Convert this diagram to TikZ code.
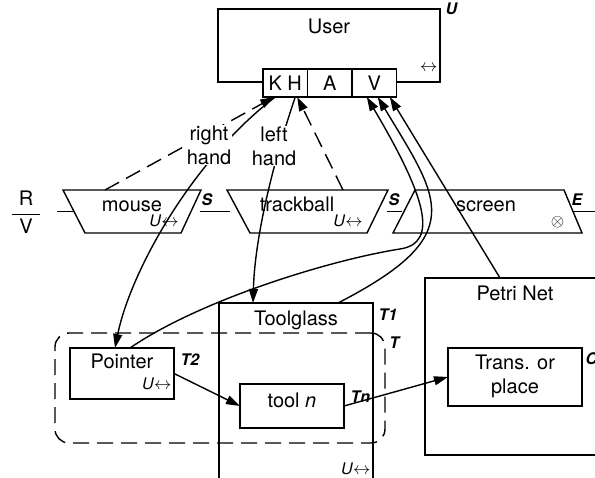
\documentclass[tikz,border=0pt]{standalone}
\usepackage{amsmath}
\usepackage{fontspec}
\setmainfont{TeX Gyre Heros}
\usepackage{tikz}
\usetikzlibrary{positioning, arrows.meta, calc}

% small "U <->" mark
\newcommand{\urel}{{\fontsize{16}{18}\selectfont\textit{U}$\leftrightarrow$}}

\begin{document}
\begin{tikzpicture}[
        x=1pt, y=-1pt,
        >={Triangle[length=14pt, width=9pt]}, % Arrow style
        line width=1.4pt,
        every node/.style={font=\fontsize{20}{24}\selectfont, inner sep=2pt},
        % Define node styles
        box/.style={draw, rectangle, inner sep=0pt, outer sep=0pt},
        cell/.style={box, fill=white, minimum width=44.5pt, minimum height=28pt},
        device/.style={rectangle, minimum height=43pt, inner sep=0pt, outer sep=0pt},
        tag/.style={font=\fontsize{16}{18}\selectfont\bfseries\itshape, inner sep=0pt},
        hand/.style={fill=white, align=center, inner sep=1pt},
        feedback/.style={dash pattern=on 16pt off 8pt}
    ]
    \useasboundingbox (0,0) rectangle (595,478);
    \clip (0,0) rectangle (595,478);

    % --- User ---
    \node[box, minimum width=222pt, minimum height=73pt] (user) at (329,45.5) {};
    \node[below=7pt of user.north] (usertxt) {User};
    \node[tag, right=5pt of user.north east] (utag) {U};
    \node[cell] (kh) at (285.25,83) {K H};
    \node[cell, right=0pt of kh] (a) {A};
    \node[cell, right=0pt of a] (v) {V};
    \node[font=\fontsize{16}{18}\selectfont, above left=7.5pt and 0pt of user.south east] (userrel) {$\leftrightarrow$};

    % --- Devices (frames, outlines drawn below) ---
    \node[device, minimum width=138pt] (mouse) at (132,211.5) {};
    \node[device, minimum width=161pt] (trackball) at (307.5,211.5) {};
    \node[device, minimum width=189pt] (screen) at (487.5,211.5) {};
    \draw (mouse.north west) -- (mouse.north east) -- ([xshift=-20pt]mouse.south east) -- ([xshift=22pt]mouse.south west) -- cycle;
    \draw (trackball.north west) -- (trackball.north east) -- ([xshift=-21pt]trackball.south east) -- ([xshift=23pt]trackball.south west) -- cycle;
    \draw ([xshift=22pt]screen.north west) -- ([xshift=-18pt]screen.north east) -- (screen.south east) -- (screen.south west) -- cycle;

    \node[anchor=base] (mousetxt) at (132,211.5) {mouse};
    \node[anchor=base] (mouserel) at (164,227) {\urel};
    \node[anchor=base] (tbtxt) at (297,211.5) {trackball};
    \node[anchor=base] (tbrel) at (348,227) {\urel};
    \node[anchor=base] (scrtxt) at (486,211.5) {screen};
    \node[font=\fontsize{16}{18}\selectfont] (scrrel) at (557.5,222.5) {$\otimes$};

    \node (rv) at (26,212) {$\dfrac{\hbox{\kern7pt R\kern7pt}}{\hbox{V}}$};
    \node[tag] (s1) at (207,200) {S};
    \node[tag] (s2) at (394,200) {S};
    \node[tag] (etag) at (577,200) {E};
    \coordinate (rvend) at (57,211.5);
    \coordinate (eend) at (600,211.5);

    \draw ([xshift=10pt]mouse.west) -- (rvend);
    \draw ([xshift=-1pt]mouse.east) -- ([xshift=3pt]trackball.west);
    \draw ([xshift=-1pt]trackball.east) -- ([xshift=9pt]screen.west);
    \draw ([xshift=-9pt]screen.east) -- (eend);

    % --- Toolglass, pointer and Petri net ---
    \node[box, minimum width=154pt, minimum height=179pt] (tglass) at (296,392.5) {};
    \node[below=5pt of tglass.north] (tglasstxt) {Toolglass};
    \node[tag, below right=5pt and 5pt of tglass.north east] (t1) {T1};
    \node[above left=5pt and 0pt of tglass.south east] (tglassrel) {\urel};

    \node[box, minimum width=104pt, minimum height=51pt] (pointer) at (122,373.5) {};
    \node[below=3pt of pointer.north] (pointertxt) {Pointer};
    \node[tag, below right=5pt and 6pt of pointer.north east] (t2) {T2};
    \node[above left=7pt and 0pt of pointer.south east] (pointerrel) {\urel};

    \node[box, minimum width=104pt, minimum height=44pt] (tooln) at (292,406) {};
    \node[below=6pt of tooln.north] (toolntxt) {tool \textit{n}};
    \node[tag, below right=6pt and 6pt of tooln.north east] (tn) {Tn};

    \node[draw, feedback, rounded corners=14pt, minimum width=330pt, minimum height=110pt] (tgroup) at (220,388) {};
    \node[tag, below right=4pt and 3pt of tgroup.north east] (ttag) {T};

    \node[box, minimum width=180pt, minimum height=177pt] (petri) at (515,366.5) {};
    \node[below=5pt of petri.north] (petritxt) {Petri Net};
    \node[box, minimum width=134pt, minimum height=58pt] (trans) at (515,377) {};
    \node[below=4pt of trans.north, align=center] (transtxt) {Trans. or\\place};
    \node[tag, below right=4pt and 3pt of trans.north east] (ctag) {C};

    % --- Hands and feedback ---
    \draw[->, feedback] ([xshift=-27pt]mouse.north) -- ([xshift=-11pt]kh.south);
    \draw[->, feedback] ([xshift=35.5pt]trackball.north) -- ([xshift=12pt]kh.south);
    \draw[->] ([xshift=-10pt]kh.south) .. controls +(-84,64) and +(15,-75) .. ([xshift=-7pt]pointer.north);
    \draw[->] ([xshift=10pt]kh.south) .. controls +(-18,53) and +(2,-72) .. ([xshift=-43pt]tglass.north);

    % --- Views back to the user ---
    \coordinate (bend) at (400,249);
    \draw[->] ([xshift=8pt]pointer.north) .. controls +(70,-48) and +(-70,11) .. (bend) .. controls +(40,-6) and +(58,98) .. (v.242);
    \draw[->] ([xshift=42pt]tglass.north) .. controls +(132,-68) and +(62,103) .. (v.284);
    \draw[->] ([xshift=-15pt]petri.north) -- (v.318);

    % --- Pointer, tool and object ---
    \draw[->] (pointer.east) -- (tooln.west);
    \draw[->] (tooln.east) -- (trans.west);

    % hand labels on top of the lines
    \node[hand] (rhand) at (209,145) {right\\hand};
    \node[hand] (lhand) at (274,146) {left\\hand};
\end{tikzpicture}
\end{document}
